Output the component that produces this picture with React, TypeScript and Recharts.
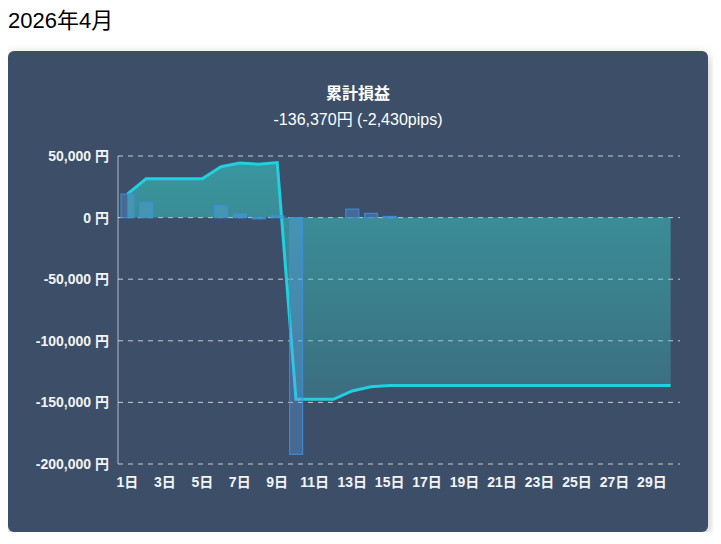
import React from "react";
import {
  ComposedChart,
  Bar,
  Area,
  XAxis,
  YAxis,
  CartesianGrid,
} from "recharts";

const dayLabels = [
  "1日", "2日", "3日", "4日", "5日", "6日", "7日", "8日", "9日", "10日",
  "11日", "12日", "13日", "14日", "15日", "16日", "17日", "18日", "19日", "20日",
  "21日", "22日", "23日", "24日", "25日", "26日", "27日", "28日", "29日", "30日",
];

const dailyPnl = [
  19000, 12500, 0, 0, 0, 9800, 3000, -1000, 1400, -192200,
  0, 0, 6800, 3400, 930, 0, 0, 0, 0, 0,
  0, 0, 0, 0, 0, 0, 0, 0, 0, 0,
];

const cumulativePnl = [
  19000, 31500, 31500, 31500, 31500, 41300, 44300, 43300, 44700, -147500,
  -147500, -147500, -140700, -137300, -136370, -136370, -136370, -136370, -136370, -136370,
  -136370, -136370, -136370, -136370, -136370, -136370, -136370, -136370, -136370, -136370,
];

const yTicks = [50000, 0, -50000, -100000, -150000, -200000];

const headingText = "2026年4月";
const titleText = "累計損益";
const subtitleText = "-136,370円 (-2,430pips)";

const data = dayLabels.map((d, i) => ({
  day: d,
  daily: dailyPnl[i],
  cum: cumulativePnl[i],
}));

const FONT = "'Liberation Sans', Arial, 'Noto Sans CJK JP', sans-serif";

const fmtYen = (v: number) => `${v.toLocaleString("en-US")} 円`;

export default function App() {
  return (
    <div style={{ fontFamily: FONT, width: 705 }}>
      <div
        style={{
          fontSize: 22,
          lineHeight: "25px",
          height: 25,
          color: "#000",
          margin: 0,
        }}
      >
        {headingText}
      </div>
      <div
        style={{
          position: "relative",
          marginTop: 18,
          width: 700,
          height: 481,
          background: "#3d4f68",
          borderRadius: 6,
          boxShadow: "0 4px 12px rgba(0,0,0,0.28)",
        }}
      >
        <div
          style={{
            position: "absolute",
            top: 33,
            left: 0,
            width: 700,
            textAlign: "center",
            fontSize: 16,
            lineHeight: "20px",
            fontWeight: 700,
            color: "#ffffff",
          }}
        >
          {titleText}
        </div>
        <div
          style={{
            position: "absolute",
            top: 59,
            left: 0,
            width: 700,
            textAlign: "center",
            fontSize: 16,
            lineHeight: "20px",
            color: "#ffffff",
          }}
        >
          {subtitleText}
        </div>
        <div style={{ position: "absolute", left: 0, top: 0 }}>
          <ComposedChart
            width={700}
            height={481}
            data={data}
            margin={{ top: 105, right: 28, left: 0, bottom: 38 }}
          >
            <defs>
              <linearGradient
                id="cumFill"
                gradientUnits="userSpaceOnUse"
                x1="0"
                y1="105"
                x2="0"
                y2="413"
              >
                <stop offset="0%" stopColor="#37d0ca" stopOpacity={0.56} />
                <stop offset="100%" stopColor="#37d0ca" stopOpacity={0.15} />
              </linearGradient>
            </defs>
            <CartesianGrid
              horizontal
              vertical={false}
              stroke="rgba(255,255,255,0.7)"
              strokeDasharray="5 5"
            />
            <XAxis
              dataKey="day"
              interval={1}
              axisLine={false}
              tickLine={false}
              tickSize={6}
              tickMargin={7}
              height={30}
              tick={{ fill: "#f2f4f7", fontSize: 14, fontWeight: 700, fontFamily: FONT }}
            />
            <YAxis
              width={110}
              domain={[-200000, 50000]}
              ticks={yTicks}
              interval={0}
              allowDataOverflow
              axisLine={{ stroke: "rgba(255,255,255,0.6)", strokeWidth: 1 }}
              tickLine={false}
              tickSize={7}
              tickMargin={2}
              tickFormatter={fmtYen}
              tick={{ fill: "#f2f4f7", fontSize: 14, fontWeight: 700, fontFamily: FONT }}
            />
            <Bar
              dataKey="daily"
              barSize={13}
              fill="rgba(96,165,250,0.3)"
              stroke="rgba(59,145,220,0.85)"
              strokeWidth={1.2}
              isAnimationActive={false}
            />
            <Area
              type="linear"
              dataKey="cum"
              stroke="#20cfe0"
              strokeWidth={3}
              fill="url(#cumFill)"
              fillOpacity={1}
              baseValue={0}
              dot={false}
              activeDot={false}
              isAnimationActive={false}
            />
          </ComposedChart>
        </div>
      </div>
    </div>
  );
}
